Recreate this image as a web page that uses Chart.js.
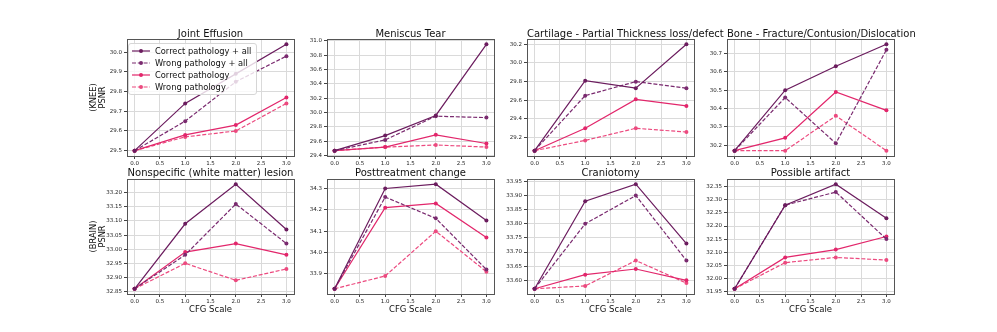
<!DOCTYPE html>
<html>
<head>
<meta charset="utf-8">
<script src="https://cdn.jsdelivr.net/npm/chart.js@4.4.1/dist/chart.umd.min.js"></script>
<style>
body{margin:0;background:#fff;width:997px;height:332px;position:relative;overflow:hidden;font-family:'DejaVu Sans',sans-serif}
.panel{position:absolute}
.ttl{position:absolute;width:167px;text-align:center;font-size:10px;line-height:12px;color:#111;white-space:nowrap}
#legend{position:absolute;left:128px;top:43px;width:129px;height:52px;box-sizing:border-box;background:rgba(255,255,255,0.8);border:1px solid #d6d6d6;border-radius:3px;padding-top:1px;font-size:8.3px;color:#111}
#legend .row{display:flex;align-items:center;height:12px}
#legend svg{margin-left:3px;margin-right:5px}
</style>
</head>
<body>
<div id="legend"></div>
<script>
var cfgScale=[0,1,2,3]
var xTicks=[0,0.5,1,1.5,2,2.5,3]
var seriesNames=["Correct pathology + all","Wrong pathology + all","Correct pathology","Wrong pathology"]
var panelTitles=["Joint Effusion","Meniscus Tear","Cartilage - Partial Thickness loss/defect","Bone - Fracture/Contusion/Dislocation",
  "Nonspecific (white matter) lesion","Posttreatment change","Craniotomy","Possible artifact"]
var rowLabels=[["(KNEE)","PSNR"],["(BRAIN)","PSNR"]]

// PSNR per series: correct+all, wrong+all, correct, wrong
var jointEffusion=[[29.50,29.74,29.89,30.04],[29.50,29.65,29.85,29.98],[29.50,29.58,29.63,29.77],[29.50,29.57,29.60,29.74]]
var meniscusTear=[[29.47,29.68,29.96,30.95],[29.47,29.62,29.95,29.93],[29.47,29.52,29.69,29.57],[29.47,29.52,29.55,29.52]]
var cartilage=[[29.06,29.81,29.73,30.20],[29.06,29.65,29.80,29.73],[29.06,29.30,29.61,29.54],[29.06,29.17,29.30,29.26]]
var bone=[[30.17,30.50,30.63,30.75],[30.17,30.46,30.21,30.72],[30.17,30.24,30.49,30.39],[30.17,30.17,30.36,30.17]]
var nonspecific=[[32.86,33.09,33.23,33.07],[32.86,32.98,33.16,33.02],[32.86,32.99,33.02,32.98],[32.86,32.95,32.89,32.93]]
var posttreatment=[[33.83,34.30,34.32,34.15],[33.83,34.26,34.16,33.92],[33.83,34.21,34.23,34.07],[33.83,33.89,34.10,33.91]]
var craniotomy=[[33.57,33.88,33.94,33.73],[33.57,33.80,33.90,33.67],[33.57,33.62,33.64,33.60],[33.57,33.58,33.67,33.59]]
var artifact=[[31.96,32.28,32.36,32.23],[31.96,32.28,32.33,32.15],[31.96,32.08,32.11,32.16],[31.96,32.06,32.08,32.07]]

var jointEffusionTicks=[29.5,29.6,29.7,29.8,29.9,30.0]
var meniscusTearTicks=[29.4,29.6,29.8,30.0,30.2,30.4,30.6,30.8,31.0]
var cartilageTicks=[29.2,29.4,29.6,29.8,30.0,30.2]
var boneTicks=[30.2,30.3,30.4,30.5,30.6,30.7]
var nonspecificTicks=[32.85,32.90,32.95,33.00,33.05,33.10,33.15,33.20]
var posttreatmentTicks=[33.9,34.0,34.1,34.2,34.3]
var craniotomyTicks=[33.60,33.65,33.70,33.75,33.80,33.85,33.90,33.95]
var artifactTicks=[31.95,32.00,32.05,32.10,32.15,32.20,32.25,32.30,32.35]

var panels=[jointEffusion,meniscusTear,cartilage,bone,nonspecific,posttreatment,craniotomy,artifact]
var panelTicks=[jointEffusionTicks,meniscusTearTicks,cartilageTicks,boneTicks,nonspecificTicks,posttreatmentTicks,craniotomyTicks,artifactTicks]

var colors=["#6b1c5e","#7a2a6f","#e2266b","#ec4a7f"]
var dashes=[[],[4,1.8],[],[4,1.8]]
var font="'DejaVu Sans', sans-serif"

// legend (panel 1 only)
var lg=document.getElementById("legend")
seriesNames.forEach(function(n,i){
  var r=document.createElement("div")
  r.className="row"
  r.innerHTML='<svg width="18" height="8"><line x1="0" y1="4" x2="18" y2="4" stroke="'+colors[i]+'" stroke-width="1.2" stroke-dasharray="'+(dashes[i].length?dashes[i].join(" "):"none")+'"/><circle cx="9" cy="4" r="2" fill="'+colors[i]+'"/></svg><span>'+n+'</span>'
  lg.appendChild(r)
})

var frame={id:"frame",afterDraw:function(c){
  var a=c.chartArea,x=c.ctx
  x.save();x.strokeStyle="#555";x.lineWidth=1
  x.strokeRect(Math.round(a.left)+0.5,Math.round(a.top)+0.5,Math.round(a.right-a.left),Math.round(a.bottom-a.top))
  x.restore()
}}

panels.forEach(function(vals,i){
  var col=i%4,row=Math.floor(i/4)
  var plotLeft=127+200*col,plotTop=row?179:39,plotH=row?115:117
  var yw=col==0?38:24,xh=row?21:14
  var div=document.createElement("div")
  div.className="panel"
  div.style.left=(plotLeft-yw)+"px"
  div.style.top=(plotTop-6)+"px"
  div.style.width=(yw+167+4)+"px"
  div.style.height=(6+plotH+xh)+"px"
  var cv=document.createElement("canvas")
  div.appendChild(cv)
  document.body.insertBefore(div,lg)

  var t=document.createElement("div")
  t.className="ttl"
  t.style.left=plotLeft+"px"
  t.style.top=(row?167:27.5)+"px"
  t.textContent=panelTitles[i]
  document.body.appendChild(t)

  var all=[].concat.apply([],vals)
  var lo=Math.min.apply(null,all),hi=Math.max.apply(null,all),m=(hi-lo)*0.05
  var ticks=panelTicks[i]
  var dec=(ticks[1]-ticks[0])<0.099?2:1

  new Chart(cv,{
    type:"line",
    data:{datasets:vals.map(function(s,k){
      return {label:seriesNames[k],data:cfgScale.map(function(x,j){return {x:x,y:s[j]}}),
        borderColor:colors[k],backgroundColor:colors[k],borderWidth:1.2,borderDash:dashes[k],
        pointRadius:2,pointBorderWidth:0,pointBackgroundColor:colors[k],tension:0}
    })},
    options:{
      responsive:true,maintainAspectRatio:false,animation:false,devicePixelRatio:1,
      layout:{padding:{top:6,right:4,left:0,bottom:0}},
      plugins:{legend:{display:false},tooltip:{enabled:false}},
      scales:{
        x:{type:"linear",min:-0.15,max:3.15,
          afterBuildTicks:function(s){s.ticks=xTicks.map(function(v){return {value:v}})},
          afterFit:function(s){s.height=xh},
          grid:{color:"#dadada",lineWidth:1,tickLength:3,tickColor:"#444"},
          border:{display:false},
          ticks:{autoSkip:false,maxRotation:0,padding:1,color:"#222",font:{family:font,size:5.5},
            callback:function(v){return Number(v).toFixed(1)}},
          title:{display:row==1,text:"CFG Scale",color:"#111",padding:0,font:{family:font,size:8.5}}
        },
        y:{type:"linear",min:lo-m,max:hi+m,
          afterBuildTicks:function(s){s.ticks=ticks.map(function(v){return {value:v}})},
          afterFit:function(s){s.width=yw},
          grid:{color:"#dadada",lineWidth:1,tickLength:3,tickColor:"#444"},
          border:{display:false},
          ticks:{autoSkip:false,padding:2,color:"#222",font:{family:font,size:5.5},
            callback:function(v){return Number(v).toFixed(dec)}},
          title:{display:col==0,text:rowLabels[row],color:"#111",padding:0,font:{family:font,size:8.3,lineHeight:1.1}}
        }
      }
    },
    plugins:[frame]
  })
})
</script>
</body>
</html>
